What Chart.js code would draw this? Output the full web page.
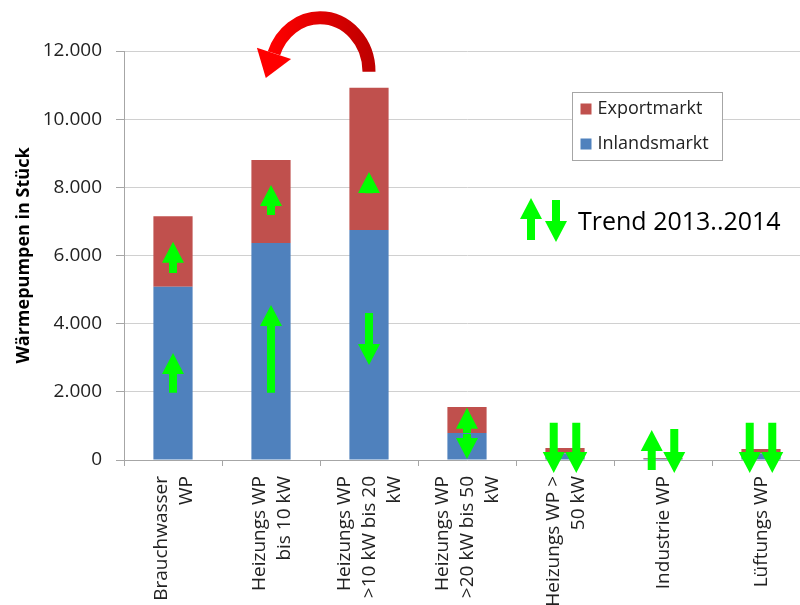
<!DOCTYPE html>
<html lang="de">
<head>
<meta charset="UTF-8">
<title>Wärmepumpen in Stück</title>
<script src="https://cdn.jsdelivr.net/npm/chart.js"></script>
<style>
    html, body { margin: 0; padding: 0; background: #fff; overflow: hidden; }
    #wrap { width: 815px; height: 605px; }
</style>
</head>
<body>
<div id="wrap"><canvas id="chart"></canvas></div>
<script>
const categories = [
    ['Brauchwasser', 'WP'],
    ['Heizungs WP', 'bis 10 kW'],
    ['Heizungs WP', '>10 kW bis 20', 'kW'],
    ['Heizungs WP', '>20 kW bis 50', 'kW'],
    ['Heizungs WP >', '50 kW'],
    ['Industrie WP'],
    ['Lüftungs WP']
];
const inlandsmarkt = [5080, 6370, 6750, 790, 190, 40, 190];
const exportmarkt = [2070, 2430, 4170, 765, 160, 20, 130];
const yMax = 12000;
const yStep = 2000;

// Trend 2013..2014 arrows: category, side (-1 left, 0 centre, 1 right), start and end value
const trendCat  = [0, 0, 1, 1, 2, 2, 3, 3, 4, 4, 5, 5, 6, 6];
const trendSide = [0, 0, 0, 0, 0, 0, 0, 0, -1, 1, -1, 1, -1, 1];
const trendFrom = [1970, 5490, 1970, 7190, 4310, 7830, 790, 760, 1090, 1090, -290, 910, 1090, 1090];
const trendTo   = [3140, 6400, 4550, 8070, 2790, 8450, 1530, 30, -380, -380, 880, -380, -380, -380];
const trendText = 'Trend 2013..2014';

const FONT = '"Open Sans", "DejaVu Sans", sans-serif';
const GREEN = '#00ff00';

function arrow(ctx, x, y0, y1) {
    const stem = 8, headW = 22, headL = 21;
    const dir = y1 < y0 ? -1 : 1;
    let yBase = y1 - dir * headL;
    if ((yBase - y0) * dir < 0) yBase = y0;
    ctx.fillStyle = GREEN;
    ctx.beginPath();
    ctx.moveTo(x - stem / 2, y0);
    ctx.lineTo(x - stem / 2, yBase);
    ctx.lineTo(x - headW / 2, yBase);
    ctx.lineTo(x, y1);
    ctx.lineTo(x + headW / 2, yBase);
    ctx.lineTo(x + stem / 2, yBase);
    ctx.lineTo(x + stem / 2, y0);
    ctx.closePath();
    ctx.fill();
}

const decorations = {
    id: 'decorations',
    afterDraw(chart) {
        const ctx = chart.ctx;
        const xs = chart.scales.x;
        const ys = chart.scales.y;
        const catW = xs.getPixelForValue(1) - xs.getPixelForValue(0);

        // category labels, rotated, lines centred on the tick
        ctx.save();
        ctx.font = '19px ' + FONT;
        ctx.fillStyle = '#222';
        ctx.textAlign = 'right';
        ctx.textBaseline = 'middle';
        categories.forEach((lines, i) => {
            const px = xs.getPixelForValue(i);
            lines.forEach((t, j) => {
                const lx = px + 1 + (j - (lines.length - 1) / 2) * 25;
                ctx.save();
                ctx.translate(lx, xs.top + 16);
                ctx.rotate(-Math.PI / 2);
                ctx.fillText(t, 0, 0);
                ctx.restore();
            });
        });
        ctx.restore();

        // green trend arrows
        ctx.save();
        trendCat.forEach((c, i) => {
            const x = xs.getPixelForValue(c) + trendSide[i] * 0.115 * catW;
            arrow(ctx, x, ys.getPixelForValue(trendFrom[i]), ys.getPixelForValue(trendTo[i]));
        });
        ctx.restore();

        // trend key
        ctx.save();
        const kx = chart.chartArea.left + 407;
        const ky = chart.chartArea.top;
        arrow(ctx, kx, ky + 189, ky + 147);
        arrow(ctx, kx + 25, ky + 149, ky + 191);
        ctx.font = '25px ' + FONT;
        ctx.fillStyle = '#000';
        ctx.textBaseline = 'alphabetic';
        ctx.fillText(trendText, kx + 47, ky + 179);
        ctx.restore();

        // legend box
        ctx.save();
        const lx = chart.chartArea.left + 448.5, ly = ky + 41.5;
        ctx.fillStyle = '#fff';
        ctx.fillRect(lx, ly, 150, 68);
        ctx.strokeStyle = '#a6a6a6';
        ctx.lineWidth = 1;
        ctx.strokeRect(lx, ly, 150, 68);
        ctx.font = '18px ' + FONT;
        ctx.textBaseline = 'middle';
        const items = chart.data.datasets.slice().reverse();
        items.forEach((ds, i) => {
            const iy = ly + 16 + i * 35;
            ctx.fillStyle = ds.backgroundColor;
            ctx.fillRect(lx + 8, iy - 5, 11, 11);
            ctx.fillStyle = '#222';
            ctx.fillText(ds.label, lx + 25, iy);
        });
        ctx.restore();

        // red curved arrow from bar 3 back to bar 2
        const bars = chart.getDatasetMeta(1).data;
        const xA = bars[1].x, xB = bars[2].x;
        const cx = (xA + xB) / 2, rx = (xB - xA) / 2;
        const cy = bars[2].y - 16, ry = 54;
        const tEnd = -Math.PI + 0.35;
        ctx.save();
        const g = ctx.createLinearGradient(xA, 0, xB, 0);
        g.addColorStop(0, '#ff0000');
        g.addColorStop(0.5, '#e00000');
        g.addColorStop(1, '#c00000');
        ctx.strokeStyle = g;
        ctx.fillStyle = '#ff0000';
        ctx.lineWidth = 13;
        ctx.beginPath();
        ctx.ellipse(cx, cy, rx, ry, 0, 0, tEnd, true);
        ctx.stroke();
        const ex = cx + rx * Math.cos(tEnd), ey = cy + ry * Math.sin(tEnd);
        let dx = rx * Math.sin(tEnd), dy = -ry * Math.cos(tEnd);
        const len = Math.hypot(dx, dy);
        dx /= len; dy /= len;
        ctx.beginPath();
        ctx.moveTo(ex - dy * 18, ey + dx * 18);
        ctx.lineTo(ex + dx * 26, ey + dy * 26);
        ctx.lineTo(ex + dy * 18, ey - dx * 18);
        ctx.closePath();
        ctx.fill();
        ctx.restore();
    }
};

const ctx = document.getElementById('chart').getContext('2d');
new Chart(ctx, {
    type: 'bar',
    data: {
        labels: categories.map(l => l.join(' ')),
        datasets: [
            { label: 'Inlandsmarkt', data: inlandsmarkt, backgroundColor: '#4f81bd' },
            { label: 'Exportmarkt', data: exportmarkt, backgroundColor: '#c0504d' }
        ]
    },
    options: {
        responsive: true,
        maintainAspectRatio: false,
        animation: false,
        layout: { padding: { top: 51, right: 5, bottom: 0, left: 0 } },
        datasets: { bar: { barPercentage: 0.4, categoryPercentage: 1 } },
        plugins: { legend: { display: false }, tooltip: { enabled: false } },
        scales: {
            x: {
                stacked: true,
                ticks: { display: false },
                grid: { drawOnChartArea: false, tickLength: 6, color: '#a6a6a6' },
                border: { color: '#a6a6a6' },
                afterFit: s => { s.height = 145; }
            },
            y: {
                stacked: true,
                min: 0,
                max: yMax,
                ticks: {
                    stepSize: yStep,
                    padding: 14,
                    color: '#222',
                    font: { family: FONT, size: 19 },
                    callback: v => String(v).replace(/\B(?=(\d{3})+(?!\d))/g, '.')
                },
                grid: { color: '#d0d0d0', tickColor: '#a6a6a6', tickLength: 8 },
                border: { color: '#a6a6a6' },
                title: {
                    display: true,
                    text: 'Wärmepumpen in Stück',
                    color: '#000',
                    font: { family: FONT, size: 18, weight: 'bold' },
                    padding: { top: 13, bottom: 0 }
                },
                afterFit: s => { s.width = 124; }
            }
        }
    },
    plugins: [decorations]
});
</script>
</body>
</html>
